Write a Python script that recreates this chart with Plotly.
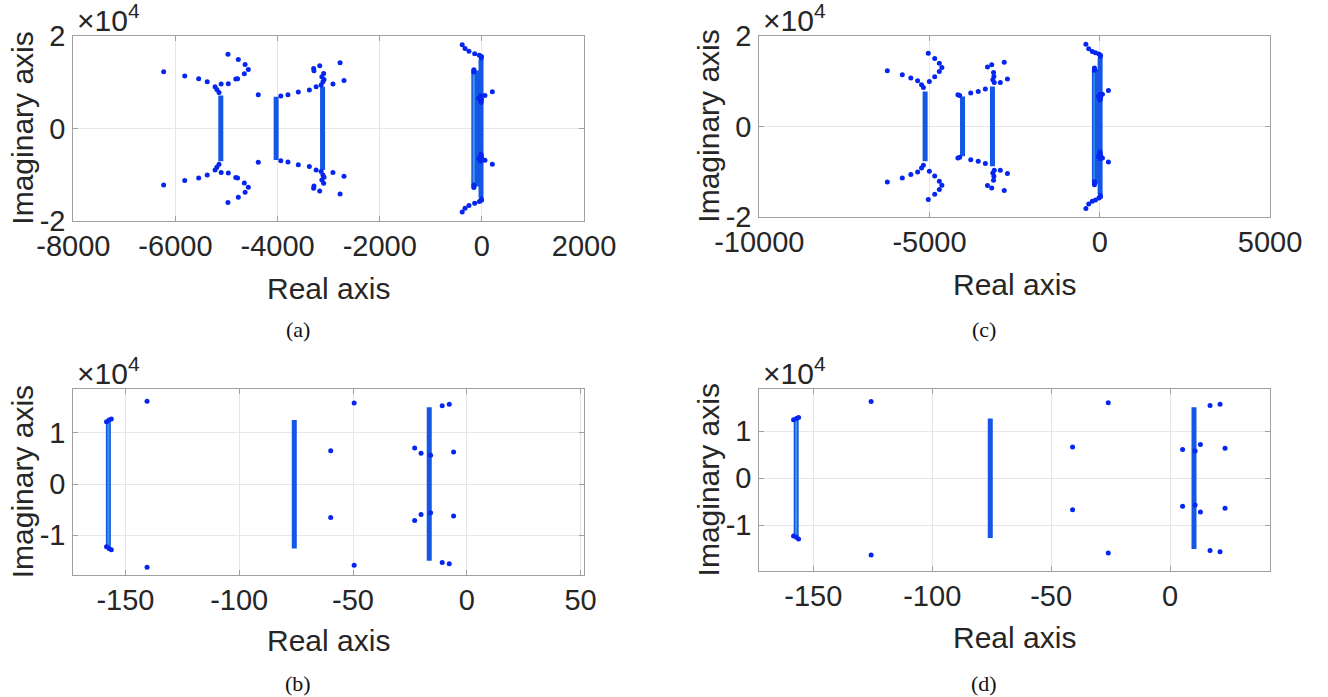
import plotly.graph_objects as go

# ---------------- data: case 1 (panels a and b) ----------------
A_pts_re = [-6231, -5818, -5545, -5378, -5224, -5189, -5147,
            -5105, -4965, -4818, -4783, -4651, -4573, -4636, -4769, -4972,
            -4378,
            -3937, -3797, -3594, -3378, -3245,
            -3147, -3112, -3091, -3133, -3098, -3287, -3294, -3175, -2916, -2699, -2776,
            -385, -329, -252, -140.5, -49.5, -10.8, -7.7,
            -158.3, -157.2, -156.2,
            -59.8, -22.9, -20.1, -15.9, -5.8,
            60, 205,
            -6231, -5818, -5545, -5378, -5224, -5189, -5147,
            -5105, -4965, -4818, -4783, -4651, -4573, -4636, -4769, -4972,
            -4378,
            -3937, -3797, -3594, -3378, -3245,
            -3147, -3112, -3091, -3133, -3098, -3287, -3294, -3175, -2916, -2699, -2776,
            -385, -329, -252, -140.5, -49.5, -10.8, -7.7,
            -158.3, -157.2, -156.2,
            -59.8, -22.9, -20.1, -15.9, -5.8,
            60, 205]
A_pts_im = [12252, 11315, 10739, 10090, 9009, 8432, 7784,
            9585, 9657, 10666, 10739, 11819, 12756, 13837, 14918, 16071,
            7279,
            6991, 7279, 7856, 8288, 9009,
            9369, 10090, 10594, 11171, 11892, 12468, 12973, 13549, 9585, 10378, 14198,
            18090, 17297, 16720, 16157, 15831, 15310, 15571,
            12183, 12509, 12704,
            6515, 7036, 5994, 5603, 6254,
            7100, 7900,
            -12252, -11315, -10739, -10090, -9009, -8432, -7784,
            -9585, -9657, -10666, -10739, -11819, -12756, -13837, -14918, -16071,
            -7351,
            -6991, -7279, -7856, -8288, -9009,
            -9369, -10090, -10594, -11171, -11892, -12468, -12973, -13549, -9585, -10378, -14198,
            -18090, -17297, -16720, -16222, -15831, -15310, -15571,
            -12248, -12574, -12834,
            -6515, -7101, -5929, -5603, -6254,
            -6900, -7770]
A_col_re = [-5112, -4028, -3119, -157.5, -75.8, -16.5]
A_col_top = [7135, 6847, 9009, 12183, 12509, 14985]
A_col_bot = [-7135, -6847, -9009, -12248, -12574, -14985]

# ---------------- data: case 2 (panels c and d) ----------------
C_pts_re = [-6240, -5800, -5549, -5350, -5235, -5180,
            -5005, -4848, -4712, -4638, -4712, -4848, -5036,
            -4167, -4115,
            -3790, -3570, -3361,
            -3099, -3141, -3110, -3120, -3298, -3173,
            -2921, -2712, -2806,
            -408, -325, -220, -125.7, -26, 16.8, 21,
            -158.3, -157.1, -156.2,
            -41, 5.25, 10.5, 12.75, 23.1,
            78, 254,
            -6240, -5800, -5549, -5350, -5235, -5180,
            -5005, -4848, -4712, -4638, -4712, -4848, -5036,
            -4167, -4115,
            -3790, -3570, -3361,
            -3099, -3141, -3110, -3120, -3298, -3173,
            -2921, -2712, -2806,
            -408, -325, -220, -125.7, -26, 16.8, 21,
            -158.3, -157.1, -156.2,
            -41, 5.25, 10.5, 12.75, 23.1,
            78, 254]
C_pts_im = [12301, 11417, 10681, 10091, 9207, 8600,
            9944, 10975, 12154, 13038, 13995, 15026, 16205,
            6998, 6850,
            7366, 7734, 8250,
            9723, 10313, 11049, 11933, 13111, 13627,
            9723, 10460, 14216,
            18194, 17163, 16573, 16312, 16028, 15460, 15744,
            12411, 12695, 12907,
            6667, 6099, 5815, 7163, 6383,
            7132, 7941,
            -12301, -11417, -10681, -10091, -9207, -8600,
            -9944, -10975, -12154, -13038, -13995, -15026, -16205,
            -6998, -6850,
            -7366, -7734, -8250,
            -9723, -10313, -11049, -11933, -13111, -13627,
            -9723, -10460, -14216,
            -18194, -17163, -16573, -16312, -15886, -15319, -15602,
            -12269, -12553, -12907,
            -6667, -5957, -5674, -7163, -6383,
            -6985, -7868]
C_col_re = [-5130, -4031, -3152, -157.2, -75.6, 10.05]
C_col_top = [7734, 6629, 8839, 12411, 12695, 15106]
C_col_bot = [-7734, -6629, -8839, -12269, -12695, -15035]

# ---------------- axes settings ----------------
A_xtick_vals = [-8000, -6000, -4000, -2000, 0, 2000]
A_xtick_text = ["-8000", "-6000", "-4000", "-2000", "0", "2000"]
B_xtick_vals = [-150, -100, -50, 0, 50]
B_xtick_text = ["-150", "-100", "-50", "0", "50"]
C_xtick_vals = [-10000, -5000, 0, 5000]
C_xtick_text = ["-10000", "-5000", "0", "5000"]
D_xtick_vals = [-150, -100, -50, 0]
D_xtick_text = ["-150", "-100", "-50", "0"]
Y2_vals = [-20000, 0, 20000]
Y2_text = ["-2", "0", "2"]
Y1_vals = [-10000, 0, 10000]
Y1_text = ["-1", "0", "1"]

W, H = 1328, 697
DOT = "#0526f0"
COL = "#1456e6"
COL_LIGHT = "#3f97e0"
TXT = "#262626"
FONT = "Liberation Sans, Arial, sans-serif"

fig = go.Figure()

panels = [
    ("a", "x", "y", A_pts_re, A_pts_im, A_col_re, A_col_top, A_col_bot),
    ("b", "x2", "y2", A_pts_re, A_pts_im, A_col_re, A_col_top, A_col_bot),
    ("c", "x3", "y3", C_pts_re, C_pts_im, C_col_re, C_col_top, C_col_bot),
    ("d", "x4", "y4", C_pts_re, C_pts_im, C_col_re, C_col_top, C_col_bot),
]

for name, xa, ya, pre, pim, cre, ctop, cbot in panels:
    for i, (r, t, b) in enumerate(zip(cre, ctop, cbot)):
        fig.add_trace(go.Scatter(x=[r, r], y=[t, b], xaxis=xa, yaxis=ya, mode="lines",
                                 line=dict(color=COL, width=5), hoverinfo="skip", showlegend=False))
        if i == 3:
            fig.add_trace(go.Scatter(x=[r, r], y=[t, b], xaxis=xa, yaxis=ya, mode="lines",
                                     line=dict(color=COL_LIGHT, width=2), hoverinfo="skip",
                                     showlegend=False))
    fig.add_trace(go.Scatter(x=pre, y=pim, xaxis=xa, yaxis=ya, mode="markers",
                             marker=dict(color=DOT, size=5, line=dict(width=0)),
                             showlegend=False))


def px_x(p):
    return p / W


def px_y(p):
    return 1 - p / H


axis_common = dict(showline=True, linecolor="#a0a0a0", linewidth=1, mirror="ticks",
                   ticks="inside", ticklen=5, tickcolor="#a0a0a0", automargin=False,
                   showgrid=True, gridcolor="#e6e6e6", gridwidth=1, zeroline=False,
                   tickfont=dict(family=FONT, size=29, color=TXT), tickmode="array")

geo = {
    "a": dict(xd=[73.3, 584], yd=[36, 220.7], xr=[-8000, 2000], yr=[-20000, 20000],
              xv=A_xtick_vals, xt=A_xtick_text, yv=Y2_vals, yt=Y2_text),
    "b": dict(xd=[73.3, 584], yd=[389.3, 574.7], xr=[-172.9, 51.5], yr=[-17700, 18500],
              xv=B_xtick_vals, xt=B_xtick_text, yv=Y1_vals, yt=Y1_text),
    "c": dict(xd=[759.3, 1270], yd=[36, 216.7], xr=[-10000, 5000], yr=[-20000, 20000],
              xv=C_xtick_vals, xt=C_xtick_text, yv=Y2_vals, yt=Y2_text),
    "d": dict(xd=[759.3, 1270], yd=[389.3, 571], xr=[-172.7, 42], yr=[-19700, 18900],
              xv=D_xtick_vals, xt=D_xtick_text, yv=Y1_vals, yt=Y1_text),
}
axis_names = {"a": ("xaxis", "yaxis", "y", "x"), "b": ("xaxis2", "yaxis2", "y2", "x2"),
              "c": ("xaxis3", "yaxis3", "y3", "x3"), "d": ("xaxis4", "yaxis4", "y4", "x4")}
caption_y = {"a": 330, "b": 683, "c": 330, "d": 683}
xtitle_y = {"a": 288, "b": 640, "c": 284, "d": 637}

layout_axes = {}
annotations = []
for k, g in geo.items():
    xn, yn, yanchor, xanchor = axis_names[k]
    layout_axes[xn] = dict(axis_common, domain=[px_x(g["xd"][0]), px_x(g["xd"][1])],
                           range=g["xr"], tickvals=g["xv"], ticktext=g["xt"],
                           anchor=yanchor, ticklabelstandoff=-1)
    layout_axes[yn] = dict(axis_common, domain=[px_y(g["yd"][1]), px_y(g["yd"][0])],
                           range=g["yr"], tickvals=g["yv"], ticktext=g["yt"],
                           anchor=xanchor, ticklabelstandoff=1)
    cx = (g["xd"][0] + g["xd"][1]) / 2
    cy = (g["yd"][0] + g["yd"][1]) / 2
    annotations.append(dict(text="Real axis", xref="paper", yref="paper",
                            x=px_x(cx), y=px_y(xtitle_y[k]), xanchor="center", yanchor="middle",
                            showarrow=False, font=dict(family=FONT, size=30, color=TXT)))
    annotations.append(dict(text="Imaginary axis", xref="paper", yref="paper",
                            x=px_x(g["xd"][0] - 51), y=px_y(cy), xanchor="center", yanchor="middle",
                            textangle=-90, showarrow=False,
                            font=dict(family=FONT, size=30, color=TXT)))
    annotations.append(dict(text="\u00d710<sup>4</sup>", xref="paper", yref="paper",
                            x=px_x(g["xd"][0] + 2), y=px_y(g["yd"][0] + 3),
                            xanchor="left", yanchor="bottom", showarrow=False,
                            font=dict(family=FONT, size=30, color=TXT)))
    annotations.append(dict(text="(" + k + ")", xref="paper", yref="paper",
                            x=px_x(cx - 31), y=px_y(caption_y[k]),
                            xanchor="center", yanchor="middle", showarrow=False,
                            font=dict(family="Liberation Serif, Times New Roman, serif", size=22,
                                      color="#111111")))

fig.update_layout(width=W, height=H, margin=dict(l=0, r=0, t=0, b=0),
                  paper_bgcolor="white", plot_bgcolor="white",
                  annotations=annotations, **layout_axes)

fig.write_html("out.html", config={"displayModeBar": False},
               post_script="document.body.style.margin='0';")
